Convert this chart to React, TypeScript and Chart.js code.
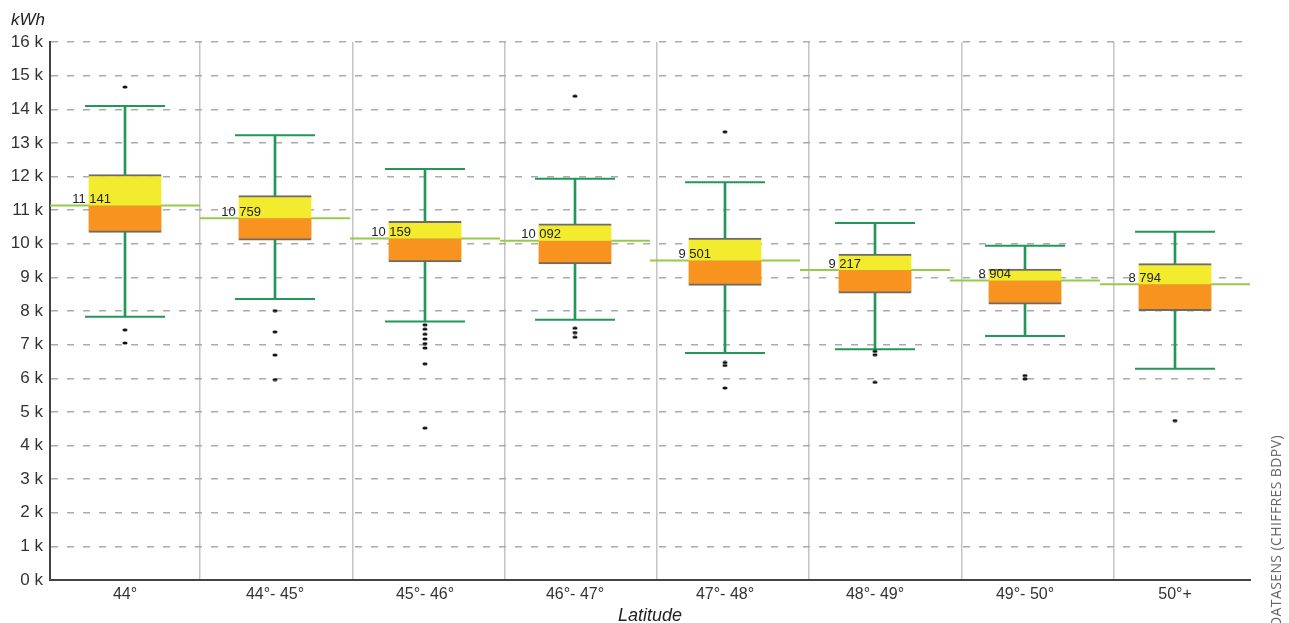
import React, { useEffect, useRef } from "react";
import { Chart, registerables } from "chart.js";

Chart.register(...registerables);

const categories = ["44°", "44°- 45°", "45°- 46°", "46°- 47°", "47°- 48°", "48°- 49°", "49°- 50°", "50°+"];
const medians = [11141, 10759, 10159, 10092, 9501, 9217, 8904, 8794];
const q1 = [10340, 10110, 9460, 9400, 8760, 8530, 8200, 8010];
const q3 = [12060, 11430, 10670, 10590, 10170, 9690, 9250, 9410];
const whiskerLow = [7830, 8360, 7690, 7740, 6750, 6860, 7260, 6280];
const whiskerHigh = [14100, 13230, 12220, 11930, 11830, 10620, 9940, 10360];
const outliers = [
  [14660, 7440, 7050],
  [8010, 7380, 6690, 5960],
  [7590, 7460, 7310, 7170, 7030, 6900, 6430, 4520],
  [14390, 7490, 7360, 7220],
  [13330, 6470, 6380, 5710],
  [6800, 6700, 5880],
  [6080, 5980],
  [4740],
];
const yTicks = [0, 1000, 2000, 3000, 4000, 5000, 6000, 7000, 8000, 9000, 10000, 11000, 12000, 13000, 14000, 15000, 16000];

const FONT = '"Liberation Sans", Arial, Helvetica, sans-serif';

function fmt(v: number) {
  const th = Math.floor(v / 1000);
  const rest = String(v % 1000).padStart(3, "0");
  return `${th} ${rest}`;
}

const medianLabels = {
  id: "medianLabels",
  afterDatasetsDraw(chart: any) {
    const { ctx, scales } = chart;
    const x = scales.x;
    const y = scales.y;
    ctx.save();
    ctx.font = `13px ${FONT}`;
    ctx.fillStyle = "#222";
    ctx.textAlign = "right";
    ctx.textBaseline = "alphabetic";
    medians.forEach((m, i) => {
      ctx.fillText(fmt(m), x.getPixelForValue(i) - 14, y.getPixelForValue(m) - 2.5);
    });
    ctx.restore();
  },
};

export default function App() {
  const ref = useRef<HTMLCanvasElement | null>(null);

  useEffect(() => {
    if (!ref.current) return;
    const dot = document.createElement("canvas");
    dot.width = 6;
    dot.height = 4;
    const dctx = dot.getContext("2d")!;
    dctx.fillStyle = "#111";
    dctx.beginPath();
    dctx.ellipse(3, 2, 2.6, 1.5, 0, 0, Math.PI * 2);
    dctx.fill();

    const outlierData: any[] = [];
    outliers.forEach((arr, i) => arr.forEach((v) => outlierData.push({ x: categories[i], y: v })));

    // vertical separator positions (in category units) as drawn in the reference
    const sepStart = 1;
    const sepStep = 1.0153;
    const separators = [0, 1, 2, 3, 4, 5, 6].map((k) => sepStart + k * sepStep);

    const chart = new Chart(ref.current, {
      type: "bar",
      data: {
        labels: categories,
        datasets: [
          {
            type: "line",
            data: outlierData,
            showLine: false,
            pointStyle: dot as any,
            pointRadius: 3,
            order: 0,
          } as any,
          {
            type: "bar",
            data: medians.map((m, i) => [m, q3[i]]),
            backgroundColor: "#f3eb2e",
            borderColor: "#6e6a64",
            borderWidth: { top: 2, bottom: 0, left: 0, right: 0 },
            borderSkipped: false,
            barThickness: 73,
            grouped: false,
            order: 2,
          } as any,
          {
            type: "bar",
            data: q1.map((v, i) => [v, medians[i]]),
            backgroundColor: "#f7931e",
            borderColor: "#6e6a64",
            borderWidth: { top: 0, bottom: 2, left: 0, right: 0 },
            borderSkipped: false,
            barThickness: 73,
            grouped: false,
            order: 2,
          } as any,
          {
            type: "bar",
            data: whiskerLow.map((v, i) => [v, q1[i]]),
            backgroundColor: "#23975a",
            borderWidth: 0,
            barThickness: 2,
            grouped: false,
            order: 3,
          } as any,
          {
            type: "bar",
            data: q3.map((v, i) => [v, whiskerHigh[i]]),
            backgroundColor: "#23975a",
            borderWidth: 0,
            barThickness: 2,
            grouped: false,
            order: 3,
          } as any,
          {
            type: "line",
            data: whiskerHigh,
            showLine: false,
            pointStyle: "line",
            pointRadius: 40,
            pointBorderWidth: 2,
            pointBorderColor: "#23975a",
            order: 3,
          } as any,
          {
            type: "line",
            data: whiskerLow,
            showLine: false,
            pointStyle: "line",
            pointRadius: 40,
            pointBorderWidth: 2,
            pointBorderColor: "#23975a",
            order: 3,
          } as any,
          {
            type: "line",
            data: medians,
            showLine: false,
            pointStyle: "line",
            pointRadius: 75,
            pointBorderWidth: 2,
            pointBorderColor: "#94cc4a",
            order: 6,
          } as any,
        ],
      },
      options: {
        animation: false,
        responsive: false,
        events: [],
        layout: { autoPadding: false, padding: { left: 0, right: 39, top: 42, bottom: 0 } },
        plugins: { legend: { display: false }, tooltip: { enabled: false } },
        scales: {
          x: {
            type: "category",
            offset: true,
            grid: { display: true, drawOnChartArea: false, drawTicks: false },
            border: { display: true, color: "#444", width: 2 },
            ticks: { color: "#333", font: { family: FONT, size: 16 }, padding: 5, maxRotation: 0, autoSkip: false },
            title: {
              display: true,
              text: "Latitude",
              color: "#222",
              font: { family: FONT, size: 18, style: "italic", lineHeight: 0.8 },
              padding: { top: 0, bottom: 0 },
            },
            afterFit: (s: any) => {
              s.height = 43;
            },
          },
          xg: {
            type: "linear",
            position: "top",
            offset: false,
            min: 0,
            max: 8,
            afterBuildTicks: (s: any) => {
              s.ticks = separators.map((v) => ({ value: v }));
            },
            ticks: { display: false },
            grid: { offset: false, color: "#c4c4c4", lineWidth: 1.5, drawTicks: false },
            border: { display: false },
            afterFit: (s: any) => {
              s.height = 0;
            },
          },
          y: {
            type: "linear",
            min: 0,
            max: 16000,
            afterBuildTicks: (s: any) => {
              s.ticks = yTicks.map((v) => ({ value: v }));
            },
            ticks: {
              color: "#333",
              font: { family: FONT, size: 17 },
              padding: 7,
              callback: (v: any) => `${Number(v) / 1000} k`,
            },
            grid: { color: "#aaaaaa", lineWidth: 1.5, drawTicks: false },
            border: { display: true, color: "#444", width: 2, dash: [7, 9] },
            afterFit: (s: any) => {
              s.width = 50;
            },
          },
        },
      } as any,
      plugins: [medianLabels],
    });
    return () => chart.destroy();
  }, []);

  return (
    <div style={{ position: "fixed", left: 0, top: 0, width: 1289, height: 623, background: "#fff", overflow: "hidden" }}>
      <canvas ref={ref} width={1289} height={623} style={{ display: "block" }} />
      <div
        style={{
          position: "absolute",
          left: 11,
          top: 11,
          font: `italic 17px ${FONT}`,
          lineHeight: "17px",
          color: "#222",
          whiteSpace: "nowrap",
        }}
      >
        kWh
      </div>
      <div
        style={{
          position: "absolute",
          left: 1268,
          top: 627,
          transform: "rotate(-90deg)",
          transformOrigin: "left top",
          font: `14px "Open Sans", sans-serif`,
          letterSpacing: "0.4px",
          lineHeight: "16px",
          color: "#666",
          whiteSpace: "nowrap",
        }}
      >
        DATASENS (CHIFFRES BDPV)
      </div>
    </div>
  );
}
